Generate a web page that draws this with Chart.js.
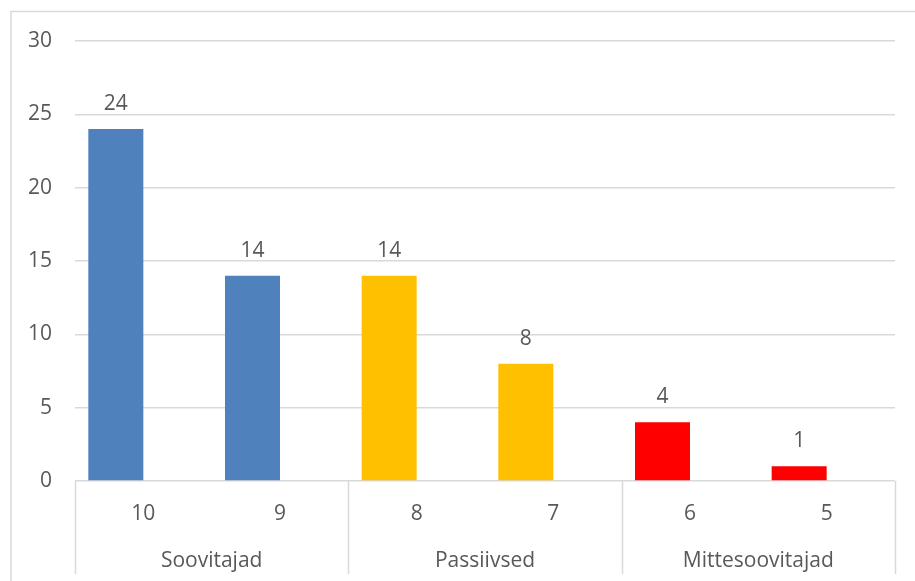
<!DOCTYPE html>
<html lang="et">
<head>
<meta charset="utf-8">
<title>Soovitusindeks</title>
<script src="https://cdn.jsdelivr.net/npm/chart.js@4/dist/chart.umd.min.js"></script>
<style>
  html, body { margin: 0; padding: 0; background: #fff; }
  #wrap { width: 915px; height: 581px; }
</style>
</head>
<body>
<div id="wrap"><canvas id="chart" width="915" height="581"></canvas></div>
<script>
// ── Data ───────────────────────────────────────────────────
const scores    = ["10", "9", "8", "7", "6", "5"];
const answers   = [24, 14, 14, 8, 4, 1];
const groups    = ["Soovitajad", "Passiivsed", "Mittesoovitajad"];
const groupSpan = [2, 2, 2];           // how many scores belong to each group
const yTicks    = [0, 5, 10, 15, 20, 25, 30];

// second (empty) series keeps the bars in the left half of each slot
const emptySeries = scores.map(() => null);

// ── Style ──────────────────────────────────────────────────
const FONT       = "'Open Sans', 'Liberation Sans', sans-serif";
const FONT_SIZE  = 21;
const TEXT       = "#595959";
const LINE       = "#d9d9d9";
const groupColor = ["#4f81bd", "#ffc000", "#ff0000"];

function colorForIndex(i) {
  let acc = 0;
  for (let g = 0; g < groupSpan.length; g++) {
    acc += groupSpan[g];
    if (i < acc) return groupColor[g];
  }
  return groupColor[groupColor.length - 1];
}

// ── Plugins ────────────────────────────────────────────────
const frame = {
  id: "frame",
  beforeDraw(chart) {
    const ctx = chart.ctx;
    ctx.save();
    ctx.strokeStyle = LINE;
    ctx.lineWidth = 1.5;
    ctx.strokeRect(11, 11.5, 2000, 2000);
    ctx.restore();
  },
};

const valueLabels = {
  id: "valueLabels",
  afterDatasetsDraw(chart) {
    const ctx  = chart.ctx;
    const meta = chart.getDatasetMeta(0);
    ctx.save();
    ctx.fillStyle = TEXT;
    ctx.font = FONT_SIZE + "px " + FONT;
    ctx.textAlign = "center";
    ctx.textBaseline = "alphabetic";
    meta.data.forEach((bar, i) => {
      ctx.fillText(String(answers[i]), bar.x, bar.y - 19);
    });
    ctx.restore();
  },
};

// group separators and group names under the score labels
const groupAxis = {
  id: "groupAxis",
  afterDraw(chart) {
    const ctx = chart.ctx;
    const x   = chart.scales.x;
    const area = chart.chartArea;
    const slot = (x.getPixelForValue(1) - x.getPixelForValue(0));
    ctx.save();
    ctx.strokeStyle = LINE;
    ctx.lineWidth = 1.5;
    ctx.fillStyle = TEXT;
    ctx.font = FONT_SIZE + "px " + FONT;
    ctx.textAlign = "center";

    let start = 0;
    const edges = [area.left];
    groups.forEach((name, g) => {
      const end   = start + groupSpan[g];
      const left  = x.getPixelForValue(start) - slot / 2;
      const right = x.getPixelForValue(end - 1) + slot / 2;
      edges.push(right);
      ctx.fillText(name, (left + right) / 2, 567);
      start = end;
    });

    edges.forEach(px => {
      ctx.beginPath();
      ctx.moveTo(Math.round(px) + 0.5, area.bottom);
      ctx.lineTo(Math.round(px) + 0.5, 574);
      ctx.stroke();
    });
    ctx.restore();
  },
};

// ── Chart ──────────────────────────────────────────────────
new Chart(document.getElementById("chart"), {
  type: "bar",
  data: {
    labels: scores,
    datasets: [
      {
        data: answers,
        backgroundColor: scores.map((_, i) => colorForIndex(i)),
        categoryPercentage: 0.805,
        barPercentage: 1,
      },
      {
        data: emptySeries,
        backgroundColor: "transparent",
        categoryPercentage: 0.805,
        barPercentage: 1,
      },
    ],
  },
  options: {
    responsive: false,
    animation: false,
    layout: { padding: { top: 41, right: 20, left: 0, bottom: 0 } },
    plugins: {
      legend:  { display: false },
      tooltip: { enabled: false },
    },
    scales: {
      x: {
        grid:   { display: false },
        border: { display: false },
        ticks:  { color: TEXT, font: { family: FONT, size: FONT_SIZE }, padding: 12, maxRotation: 0 },
        afterFit: s => { s.height = 100; },
      },
      y: {
        min: 0,
        max: 30,
        afterBuildTicks: s => { s.ticks = yTicks.map(v => ({ value: v })); },
        grid:   { color: LINE, lineWidth: 1.5, drawTicks: false },
        border: { display: false },
        ticks:  { color: TEXT, font: { family: FONT, size: FONT_SIZE }, padding: 23 },
        afterFit: s => { s.width = 75; },
      },
    },
  },
  plugins: [frame, valueLabels, groupAxis],
});
</script>
</body>
</html>
